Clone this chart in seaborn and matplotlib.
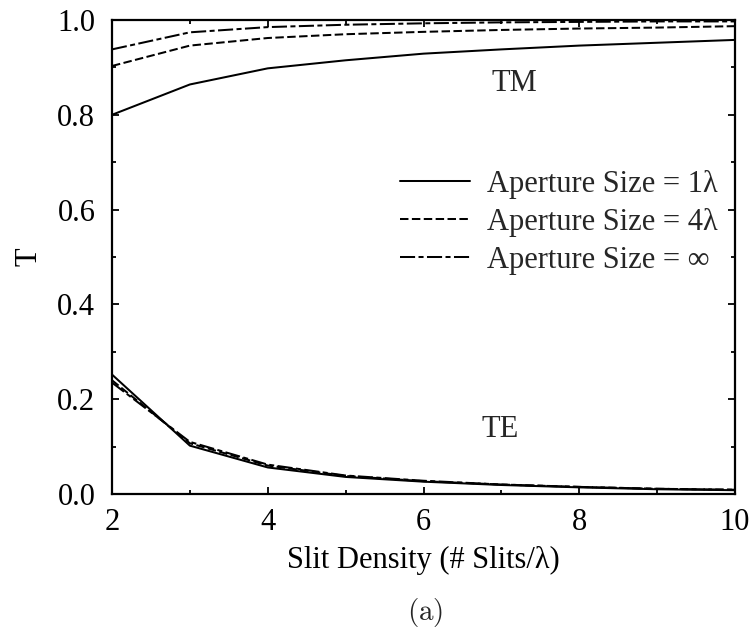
import matplotlib
matplotlib.use("Agg")
import matplotlib.pyplot as plt
import seaborn as sns
import pandas as pd
from matplotlib.ticker import MultipleLocator, FormatStrFormatter

sns.set_theme(style="ticks")
plt.rcParams['font.family'] = ['Liberation Serif', 'DejaVu Serif']
plt.rcParams['mathtext.fontset'] = 'cm'

density = [2, 3, 4, 5, 6, 7, 8, 9, 10]
tm_1 = [0.800, 0.864, 0.898, 0.915, 0.929, 0.938, 0.946, 0.952, 0.958]
tm_4 = [0.903, 0.946, 0.962, 0.970, 0.975, 0.979, 0.982, 0.984, 0.987]
tm_inf = [0.938, 0.974, 0.985, 0.990, 0.993, 0.995, 0.996, 0.997, 0.997]
te_1 = [0.252, 0.102, 0.056, 0.036, 0.026, 0.019, 0.014, 0.010, 0.008]
te_4 = [0.240, 0.107, 0.060, 0.038, 0.027, 0.020, 0.015, 0.011, 0.009]
te_inf = [0.235, 0.110, 0.062, 0.039, 0.028, 0.020, 0.015, 0.011, 0.009]
labels = ["Aperture Size = 1λ", "Aperture Size = 4λ", "Aperture Size = ∞"]

LW = 1.45
dash_styles = [None, (4.2, 1.7), (7.5, 1.7, 2.5, 1.7)]

FS = 22
fig = plt.figure(figsize=(7.51, 6.31), dpi=100)
ax = fig.add_axes([112 / 751, 137 / 631, 623 / 751, 474 / 631])

series = [(tm_1, te_1), (tm_4, te_4), (tm_inf, te_inf)]
handles = []
for (tm, te), lab, ds in zip(series, labels, dash_styles):
    for i, vals in enumerate((tm, te)):
        df = pd.DataFrame({"x": density, "y": vals})
        sns.lineplot(data=df, x="x", y="y", ax=ax, color="black", lw=LW,
                     legend=False)
        line = ax.lines[-1]
        if ds is not None:
            line.set_dashes(ds)
        if i == 0:
            handles.append(line)

ax.set_xlim(2, 10)
ax.set_ylim(0, 1)
ax.xaxis.set_major_locator(MultipleLocator(2))
ax.xaxis.set_minor_locator(MultipleLocator(1))
ax.yaxis.set_major_locator(MultipleLocator(0.2))
ax.yaxis.set_minor_locator(MultipleLocator(0.1))
ax.yaxis.set_major_formatter(FormatStrFormatter('%.1f'))
ax.tick_params(which='both', direction='in', top=True, right=True, colors='black',
               labelsize=FS, width=1.3)
ax.tick_params(which='major', length=5)
ax.tick_params(which='minor', length=3)
ax.tick_params(axis='x', which='major', pad=10)
ax.tick_params(axis='y', which='major', pad=12)
for s in ax.spines.values():
    s.set_color('black')
    s.set_linewidth(1.6)

ax.set_xlabel("Slit Density (# Slits/λ)", fontsize=FS, color='black')
ax.xaxis.set_label_coords(0.5, -0.11)
ax.set_ylabel("T", fontsize=FS, color='black')
ax.yaxis.set_label_coords(-0.11, 0.5)

ax.text(7.17, 0.865, "TM", fontsize=FS, ha='center', va='center')
ax.text(6.99, 0.137, "TE", fontsize=FS, ha='center', va='center')

ax.legend(handles, labels, frameon=False, fontsize=FS, loc='upper left',
          bbox_to_anchor=(0.462, 0.684), handlelength=2.29, handletextpad=0.56,
          labelspacing=0.30, borderpad=0, borderaxespad=0)

fig.text(425 / 751, 0.030, r"$\mathrm{(a)}$", fontsize=21, ha='center', va='center')

fig.savefig("out.png", dpi=100)
